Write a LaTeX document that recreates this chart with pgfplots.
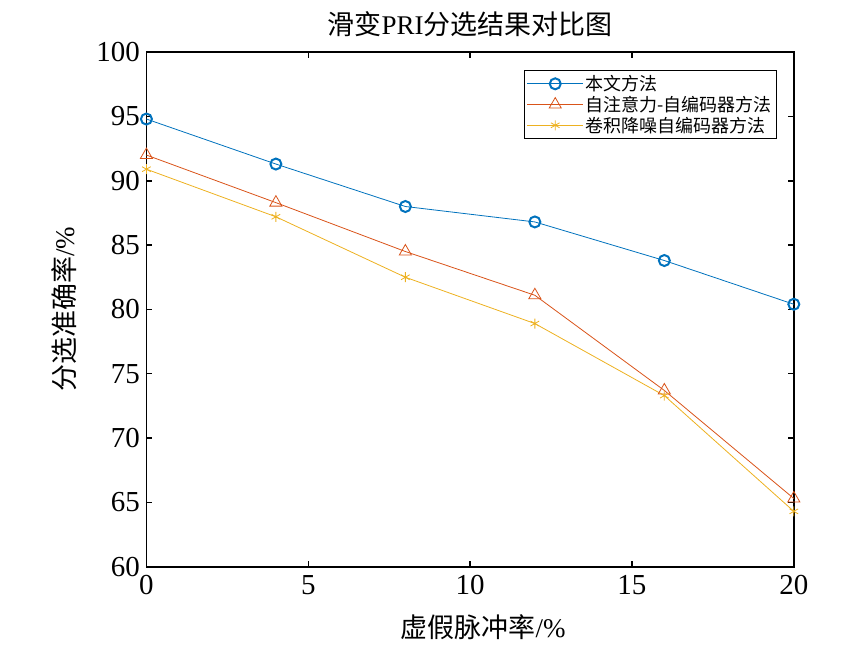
\documentclass[border=0pt]{standalone}
\usepackage{fontspec}
\setmainfont{Liberation Serif}
\newfontfamily\cjk{Noto Sans CJK SC}
\usepackage{pgfplots}
\pgfplotsset{compat=1.18}
\definecolor{mblue}{rgb}{0,0.447,0.741}
\definecolor{mred}{rgb}{0.85,0.325,0.098}
\definecolor{myellow}{rgb}{0.929,0.694,0.125}
\begin{document}
\begin{tikzpicture}
\begin{axis}[
  scale only axis,
  width=648pt, height=515pt,
  xmin=0, xmax=20, ymin=60, ymax=100,
  xtick={0,5,10,15,20}, ytick={60,65,...,100},
  tick align=inside,
  major tick length=6pt,
  tick style={black, line width=1.5pt},
  axis line style={line width=1.8pt},
  ticklabel style={font=\fontsize{29}{32}\selectfont},
  xticklabel style={yshift=-5pt},
  yticklabel style={xshift=-3pt},
  /pgf/number format/assume math mode=true,
  title={\cjk 滑变\rmfamily PRI\cjk 分选结果对比图},
  title style={font=\fontsize{27}{30}\selectfont, at={(axis description cs:0.5,1)}, anchor=south, yshift=6pt},
  xlabel={\cjk 虚假脉冲率\rmfamily /\%},
  xlabel style={font=\fontsize{27}{30}\selectfont, at={(axis description cs:0.52,-0.118)}, anchor=center},
  ylabel={\cjk 分选准确率\rmfamily /\%},
  ylabel style={font=\fontsize{27}{30}\selectfont, at={(axis description cs:-0.127,0.5)}, anchor=center},
  legend style={at={(axis description cs:0.974,0.965)}, anchor=north east, font=\cjk\fontsize{18}{20}\selectfont, draw=black, line width=0.6pt, row sep=0pt, inner sep=3pt},
  legend cell align=left,
  legend image code/.code={\draw[#1] (0pt,0pt) -- (56pt,0pt); \draw[#1, mark repeat=1] plot coordinates {(28pt,0pt)};},
]
\addplot[mblue, line width=0.8pt, mark=o, mark size=5.5pt, mark options={line width=2pt}] coordinates {
(0,94.8) (4,91.3) (8,88.0) (12,86.8) (16,83.8) (20,80.4)};
\addlegendentry{本文方法}
\addplot[mred, line width=0.8pt, mark=triangle, mark size=7pt, mark options={line width=0.8pt}] coordinates {
(0,92.0) (4,88.3) (8,84.5) (12,81.1) (16,73.7) (20,65.3)};
\addlegendentry{自注意力-自编码器方法}
\addplot[myellow, line width=0.8pt, mark=asterisk, mark size=5pt, mark options={line width=0.8pt}] coordinates {
(0,90.9) (4,87.2) (8,82.5) (12,78.9) (16,73.3) (20,64.3)};
\addlegendentry{卷积降噪自编码器方法}
\end{axis}
\pgfresetboundingbox
\path ([xshift=-146bp,yshift=-91bp]current axis.south west) rectangle ([xshift=67bp,yshift=52bp]current axis.north east);
\end{tikzpicture}
\end{document}
